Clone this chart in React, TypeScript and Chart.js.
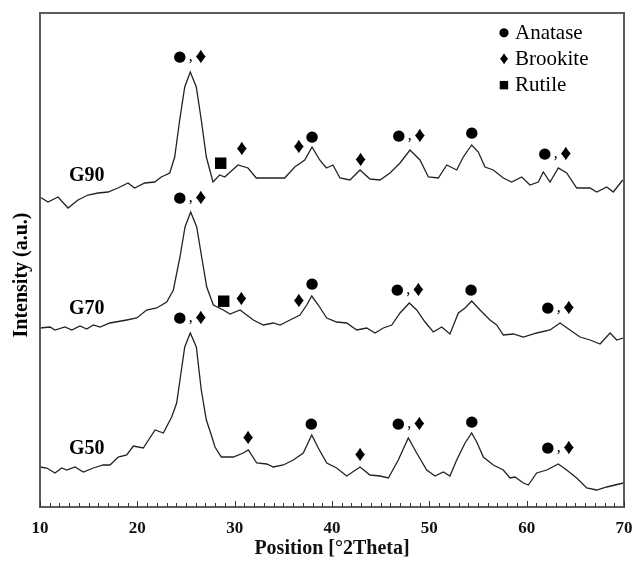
import React, { useEffect, useRef } from "react";
import { Chart, registerables } from "chart.js";

Chart.register(...registerables);

const SERIF = '"Liberation Serif", "Times New Roman", serif';
const SYMBOL = '"DejaVu Sans", sans-serif';

const xTickValues = [10, 20, 30, 40, 50, 60, 70];
const seriesNames = ["G90", "G70", "G50"];

const g90Theta = [10.0, 10.82, 11.85, 12.88, 13.9, 14.93, 15.96, 16.99, 18.01, 19.04, 19.73, 20.76, 21.78, 22.46, 23.33, 23.84, 24.35, 24.87, 25.44, 26.06, 26.57, 27.09, 27.77, 28.46, 28.98, 30.34, 31.37, 32.22, 33.43, 35.14, 36.17, 37.2, 37.95, 38.74, 39.42, 40.1, 40.82, 41.85, 42.88, 43.9, 44.93, 45.96, 46.99, 48.01, 49.04, 49.9, 50.92, 51.79, 52.81, 53.49, 54.35, 55.03, 55.72, 56.57, 57.6, 58.46, 59.49, 60.34, 61.2, 61.71, 62.4, 63.25, 64.11, 65.14, 66.51, 67.2, 68.23, 68.9, 69.87];
const g90Intensity = [310, 305, 310, 299, 307, 312, 314, 315, 319, 324, 319, 324, 325, 330, 334, 350, 387, 420, 435, 420, 387, 350, 325, 332, 330, 342, 339, 329, 329, 329, 340, 347, 360, 347, 339, 342, 329, 327, 337, 328, 327, 334, 344, 357, 347, 330, 329, 342, 337, 350, 362, 355, 340, 337, 329, 325, 330, 322, 325, 335, 325, 339, 334, 319, 319, 315, 320, 315, 327];

const g70Theta = [10.0, 11.03, 11.54, 12.57, 13.26, 14.11, 14.8, 15.48, 16.16, 17.19, 18.91, 19.94, 20.96, 21.99, 23.02, 23.7, 24.38, 24.9, 25.48, 26.1, 26.61, 27.13, 27.81, 28.83, 29.52, 30.55, 31.92, 32.94, 33.97, 34.66, 35.69, 36.71, 37.4, 37.92, 38.59, 39.46, 40.48, 41.51, 42.54, 43.57, 44.42, 45.27, 46.14, 46.99, 47.94, 48.7, 49.56, 50.41, 51.27, 52.12, 52.98, 53.67, 54.35, 55.21, 56.23, 56.92, 57.6, 58.63, 59.66, 61.03, 62.4, 63.43, 64.45, 65.48, 66.51, 67.54, 68.57, 69.25, 69.93];
const g70Intensity = [179, 180, 177, 180, 177, 181, 178, 182, 180, 184, 187, 189, 197, 199, 205, 217, 250, 280, 295, 280, 250, 220, 202, 197, 193, 197, 187, 182, 184, 182, 187, 192, 202, 211, 202, 189, 185, 184, 177, 179, 174, 179, 182, 194, 204, 197, 185, 175, 180, 173, 194, 199, 206, 197, 187, 182, 172, 173, 170, 174, 177, 184, 177, 170, 167, 163, 174, 167, 169];

const g50Theta = [10.0, 10.69, 11.54, 12.23, 12.74, 13.6, 14.45, 15.48, 16.5, 17.19, 18.04, 18.91, 19.59, 20.61, 21.82, 22.67, 23.53, 24.04, 24.38, 24.87, 25.44, 26.06, 26.57, 27.09, 27.6, 27.98, 28.63, 29.86, 30.89, 31.4, 32.27, 33.29, 33.97, 35.0, 36.02, 37.05, 37.92, 38.59, 39.46, 40.48, 41.51, 42.88, 43.9, 44.93, 45.79, 46.81, 47.84, 48.7, 49.73, 50.58, 51.44, 52.12, 52.81, 53.67, 54.35, 54.87, 55.55, 56.57, 57.6, 58.29, 58.8, 59.66, 60.17, 61.03, 62.06, 63.25, 64.11, 65.14, 66.17, 67.2, 68.23, 69.93];
const g50Intensity = [40, 39, 34, 39, 37, 40, 35, 39, 42, 42, 50, 52, 61, 59, 77, 74, 90, 104, 127, 160, 174, 160, 117, 87, 72, 60, 50, 50, 54, 57, 44, 43, 40, 42, 47, 54, 72, 59, 44, 39, 31, 40, 32, 31, 29, 47, 69, 54, 37, 31, 35, 31, 47, 64, 74, 65, 50, 42, 37, 29, 30, 24, 22, 34, 37, 43, 37, 29, 19, 17, 20, 24];

// phase marks: [2theta, intensity, text]
const g90Marks: [number, number, string][] = [
  [25.4, 450, "●,♦"], [28.56, 344, "■"], [30.75, 358, "♦"], [36.6, 360, "♦"], [37.95, 370, "●"],
  [42.95, 347, "♦"], [47.9, 371, "●,♦"], [54.35, 374, "●"], [62.9, 353, "●,♦"],
];
const g70Marks: [number, number, string][] = [
  [25.4, 309, "●,♦"], [28.87, 206, "■"], [30.7, 208, "♦"], [36.6, 206, "♦"], [37.95, 223, "●"],
  [47.75, 217, "●,♦"], [54.28, 217, "●"], [63.2, 199, "●,♦"],
];
const g50Marks: [number, number, string][] = [
  [25.4, 189, "●,♦"], [31.37, 69, "♦"], [37.87, 83, "●"], [42.88, 52, "♦"],
  [47.84, 83, "●,♦"], [54.35, 85, "●"], [63.2, 59, "●,♦"],
];

const sampleLabelTheta = 14.8;
const sampleLabelIntensity = [331, 198, 58];

const legendSymbols = ["●", "♦", "■"];
const legendNames = ["Anatase", "Brookite", "Rutile"];

const xTitle = "Position [°2Theta]";
const yTitle = "Intensity (a.u.)";

type FontFor = (ch: string) => string;

const markFont: FontFor = (ch) =>
  ch === "♦" ? `22px ${SERIF}` : ch === "," ? `16px ${SERIF}` : `15px ${SYMBOL}`;
const legendFont: FontFor = (ch) =>
  ch === "♦" ? `18px ${SERIF}` : ch === "■" ? `11px ${SYMBOL}` : `12px ${SYMBOL}`;

function drawGlyphs(ctx: CanvasRenderingContext2D, txt: string, cx: number, cy: number, fontFor: FontFor, commaGap: number) {
  const parts = Array.from(txt).map((ch) => {
    ctx.font = fontFor(ch);
    const w = ctx.measureText(ch).width + (ch === "," ? 2 * commaGap : 0);
    return { ch, w };
  });
  const total = parts.reduce((s, p) => s + p.w, 0);
  let x = cx - total / 2;
  ctx.textAlign = "center";
  parts.forEach((p) => {
    ctx.font = fontFor(p.ch);
    ctx.fillText(p.ch, x + p.w / 2, cy);
    x += p.w;
  });
}

export default function App() {
  const ref = useRef<HTMLCanvasElement>(null);

  useEffect(() => {
    const canvas = ref.current;
    if (!canvas) return;
    const toPts = (xs: number[], ys: number[]) =>
      xs.slice(0, Math.min(xs.length, ys.length)).map((x, i) => ({ x, y: ys[i] }));

    const allMarks = [g90Marks, g70Marks, g50Marks];

    const overlay = {
      id: "overlay",
      afterDraw(chart: any) {
        const { ctx, chartArea: a, scales } = chart;
        const xs = scales.x;
        const ys = scales.y;
        ctx.save();
        // frame
        ctx.strokeStyle = "#5c5c5c";
        ctx.lineWidth = 2;
        ctx.strokeRect(a.left, a.top, a.right - a.left, a.bottom - a.top);
        // inward ticks
        ctx.strokeStyle = "#333";
        ctx.lineWidth = 1;
        for (let v = 10; v <= 70; v += 1) {
          const px = Math.round(xs.getPixelForValue(v)) + 0.5;
          const len = v % 10 === 0 ? 6 : 4;
          ctx.beginPath();
          ctx.moveTo(px, a.bottom);
          ctx.lineTo(px, a.bottom - len);
          ctx.stroke();
        }
        // phase marks
        ctx.fillStyle = "#000";
        ctx.textBaseline = "middle";
        allMarks.forEach((marks) => {
          marks.forEach(([t, inten, txt]) => {
            drawGlyphs(ctx, txt, xs.getPixelForValue(t), ys.getPixelForValue(inten), markFont, 2.5);
          });
        });
        // sample labels
        ctx.textAlign = "center";
        ctx.font = `bold 20px ${SERIF}`;
        seriesNames.forEach((n, i) => {
          ctx.fillText(n, xs.getPixelForValue(sampleLabelTheta), ys.getPixelForValue(sampleLabelIntensity[i]));
        });
        // legend
        legendNames.forEach((n, i) => {
          const cy = a.top + 20 + i * 26.3;
          drawGlyphs(ctx, legendSymbols[i], 504, cy, legendFont, 0);
          ctx.textAlign = "left";
          ctx.font = `21px ${SERIF}`;
          ctx.fillText(n, 515, cy);
        });
        // y title
        ctx.translate(22, 275);
        ctx.rotate(-Math.PI / 2);
        ctx.textAlign = "center";
        ctx.font = `bold 20px ${SERIF}`;
        ctx.fillText(yTitle, 0, 0);
        ctx.restore();
      },
    };

    const lineStyle = {
      borderColor: "#222",
      borderWidth: 1.3,
      pointRadius: 0,
      tension: 0,
      fill: false,
    };

    const chart = new Chart(canvas, {
      type: "line",
      data: {
        datasets: [
          { label: seriesNames[0], data: toPts(g90Theta, g90Intensity), ...lineStyle },
          { label: seriesNames[1], data: toPts(g70Theta, g70Intensity), ...lineStyle },
          { label: seriesNames[2], data: toPts(g50Theta, g50Intensity), ...lineStyle },
        ],
      },
      options: {
        responsive: false,
        animation: false,
        devicePixelRatio: 1,
        layout: { padding: { left: 0, right: 9, top: 13, bottom: 0 } },
        plugins: { legend: { display: false }, tooltip: { enabled: false } },
        scales: {
          x: {
            type: "linear",
            min: 10,
            max: 70,
            afterFit: (s: any) => {
              s.height = 57;
              s.paddingLeft = 0;
              s.paddingRight = 0;
            },
            afterBuildTicks: (s: any) => {
              s.ticks = xTickValues.map((v) => ({ value: v }));
            },
            ticks: {
              color: "#111",
              padding: 3,
              maxRotation: 0,
              font: { family: SERIF, size: 17, weight: "bold" },
            },
            grid: { display: false },
            border: { display: false },
            title: {
              display: true,
              text: xTitle,
              color: "#111",
              padding: { top: 0, bottom: 3 },
              font: { family: SERIF, size: 20, weight: "bold" },
            },
          },
          y: {
            type: "linear",
            min: 0,
            max: 494,
            afterFit: (s: any) => {
              s.width = 40;
              s.paddingTop = 0;
              s.paddingBottom = 0;
            },
            ticks: { display: false },
            grid: { display: false },
            border: { display: false },
          },
        },
      },
      plugins: [overlay],
    } as any);
    return () => chart.destroy();
  }, []);

  return (
    <div style={{ position: "fixed", left: 0, top: 0, width: 633, height: 564, background: "#fff" }}>
      <canvas ref={ref} width={633} height={564} style={{ display: "block", width: 633, height: 564 }} />
    </div>
  );
}
